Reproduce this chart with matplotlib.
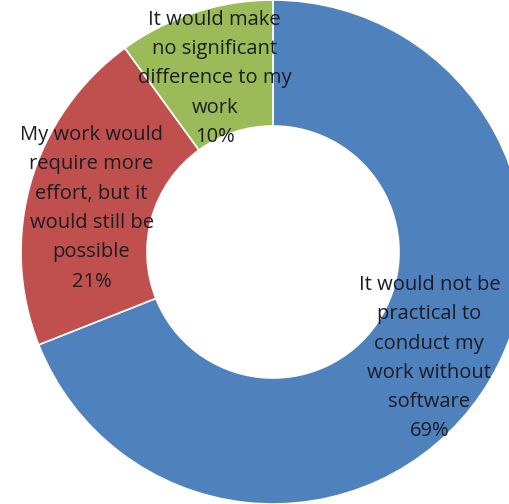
import matplotlib.pyplot as plt

labels = ["It would not be\npractical to\nconduct my\nwork without\nsoftware\n69%",
          "My work would\nrequire more\neffort, but it\nwould still be\npossible\n21%",
          "It would make\nno significant\ndifference to my\nwork\n10%"]
shares = [69, 21, 10]
colors = ["#4F81BD", "#C0504D", "#9BBB59"]

fig = plt.figure(figsize=(5.1, 5.04), dpi=100)
ax = fig.add_axes([0, 0, 1, 1])

wedges, texts = ax.pie(shares, labels=labels, colors=colors, startangle=90,
                       counterclock=False, center=(273, 252), radius=252,
                       labeldistance=0.75,
                       wedgeprops=dict(width=126, edgecolor="white", linewidth=1.2),
                       textprops=dict(fontsize=14.5, color="#1c1c24", family="Open Sans",
                                      linespacing=1.62))
for t in texts:
    t.set_horizontalalignment("center")
    t.set_verticalalignment("center")
# small nudges so the blocks sit where the original puts them
texts[1].set_y(texts[1].get_position()[1] - 9)
texts[2].set_y(texts[2].get_position()[1] - 6)

ax.set_xlim(0, 510)
ax.set_ylim(0, 504)
ax.set_aspect("equal")
ax.axis("off")

fig.savefig("out.png", dpi=100)
